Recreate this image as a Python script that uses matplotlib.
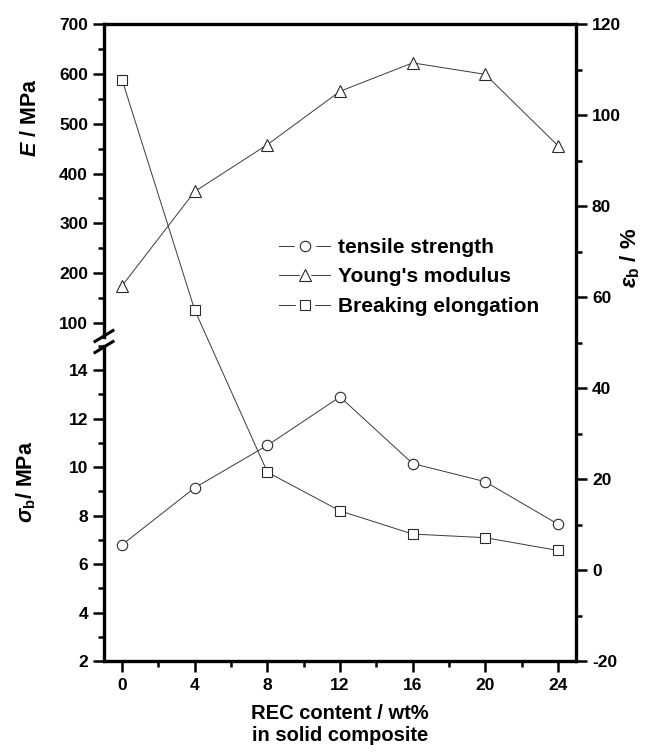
import numpy as np
import matplotlib.pyplot as plt
from matplotlib.ticker import MultipleLocator
from matplotlib.lines import Line2D
from matplotlib.legend_handler import HandlerTuple

plt.rcParams['font.family'] = ['Liberation Sans', 'DejaVu Sans']
plt.rcParams['font.weight'] = 'bold'
plt.rcParams['axes.unicode_minus'] = False
plt.rcParams['mathtext.fontset'] = 'custom'
plt.rcParams['mathtext.rm'] = 'Liberation Sans:bold'
plt.rcParams['mathtext.bf'] = 'Liberation Sans:bold'
plt.rcParams['mathtext.it'] = 'Liberation Sans:italic:bold'

# REC content (wt%)
rec = [0, 4, 8, 12, 16, 20, 24]
# tensile strength sigma_b (MPa)
tensile = [6.8, 9.15, 10.9, 12.9, 10.15, 9.4, 7.65]
# Young's modulus E (MPa)
modulus = [175, 364, 458, 565, 622, 599, 456]
# breaking elongation eps_b (%)
elongation = [107.7, 57.1, 21.5, 13.0, 7.9, 7.1, 4.3]

W, H = 645, 753
L, R, T, B = 104, 576, 24, 661
top_bottom = 337
bot_top = 346

def frac(x0, y0, x1, y1):
    return [x0 / W, (H - y1) / H, (x1 - x0) / W, (y1 - y0) / H]

fig = plt.figure(figsize=(W / 100, H / 100), dpi=100)
ax_r = fig.add_axes(frac(L, T, R, B))
ax_top = fig.add_axes(frac(L, T, R, top_bottom))
ax_bot = fig.add_axes(frac(L, bot_top, R, B))

lw_spine = 2.4
tick_fs = 12.5
line_col = '#3a3a3a'
edge_col = '#2a2a2a'
common = dict(color=line_col, lw=0.7, mfc='white', mec=edge_col, mew=0.8)

for ax in (ax_r, ax_top, ax_bot):
    ax.set_xlim(-1, 25)
    ax.patch.set_alpha(0)
    for s in ax.spines.values():
        s.set_linewidth(lw_spine)

# right axis carries the outer frame and x ticks
ax_r.spines['left'].set_visible(False)
ax_r.yaxis.tick_right()
ax_r.yaxis.set_label_position('right')
ax_r.set_ylim(-20, 120)
ax_r.yaxis.set_major_locator(MultipleLocator(20))
ax_r.yaxis.set_minor_locator(MultipleLocator(10))
ax_r.xaxis.set_major_locator(MultipleLocator(4))
ax_r.xaxis.set_minor_locator(MultipleLocator(2))
ax_r.tick_params(axis='x', which='both', top=False, direction='out', width=1.8)
ax_r.tick_params(axis='x', which='major', length=8, pad=4, labelsize=tick_fs)
ax_r.tick_params(axis='x', which='minor', length=4)
ax_r.tick_params(axis='y', which='both', left=False, right=True, direction='out', width=1.8)
ax_r.tick_params(axis='y', which='major', length=8, labelsize=tick_fs)
ax_r.tick_params(axis='y', which='minor', length=4)

for ax in (ax_top, ax_bot):
    for side in ('top', 'right', 'bottom'):
        ax.spines[side].set_visible(False)
    ax.set_xticks([])
    ax.tick_params(axis='y', which='both', direction='out', width=1.8)
    ax.tick_params(axis='y', which='major', length=8, labelsize=tick_fs)
    ax.tick_params(axis='y', which='minor', length=4)

ax_top.set_ylim(72, 700)
ax_top.set_yticks([100, 200, 300, 400, 500, 600, 700])
ax_top.yaxis.set_minor_locator(MultipleLocator(50))

ax_bot.set_ylim(2, 15)
ax_bot.yaxis.set_major_locator(MultipleLocator(2))
ax_bot.yaxis.set_minor_locator(MultipleLocator(1))

# data
ax_bot.plot(rec, tensile, marker='o', ms=7.5, **common)
ax_top.plot(rec, modulus, marker='^', ms=9, **common)
ax_r.plot(rec, elongation, marker='s', ms=6.5, **common)

# legend handles: line with a gap around the marker
def make_handle(marker, ms):
    base = Line2D([], [], color=line_col, lw=0.7)
    halo = Line2D([], [], ls='none', marker=marker, ms=ms + 7, mfc='white', mec='white')
    mk = Line2D([], [], ls='none', marker=marker, ms=ms, mfc='white', mec=edge_col, mew=0.8)
    return (base, halo, mk)

handles = [make_handle('o', 7.5), make_handle('^', 8), make_handle('s', 6.5)]
labels = ['tensile strength', "Young's modulus", 'Breaking elongation']
ax_r.legend(handles, labels, loc='upper left',
            bbox_to_anchor=(0.371, 0.664), frameon=False,
            prop={'weight': 'bold', 'size': 15},
            handler_map={tuple: HandlerTuple(ndivide=1)},
            borderpad=0, borderaxespad=0,
            handlelength=2.45, handletextpad=0.4, labelspacing=0.5)

# axis break marks on left spine
for yb in (top_bottom - 1, bot_top + 1):
    yf = (H - yb) / H
    dx, dy = 9 / W, 5.5 / H
    fig.add_artist(Line2D([L / W - dx, L / W + dx], [yf - dy, yf + dy],
                          color='black', lw=2.2, transform=fig.transFigure))

ax_top.set_ylabel('$E$ / MPa', fontsize=15.5, fontweight='bold')
ax_top.yaxis.set_label_coords(-0.133, 0.70)
ax_bot.set_ylabel(r'$\sigma_{\mathrm{b}}$/ MPa', fontsize=15.5, fontweight='bold')
ax_bot.yaxis.set_label_coords(-0.14, 0.57)
ax_r.set_ylabel(r'$\epsilon_{\mathrm{b}}$ / %', fontsize=16, fontweight='bold', rotation=90)
ax_r.yaxis.set_label_coords(1.089, 0.633)

ax_r.set_xlabel('REC content / wt%\nin solid composite', fontsize=14.5,
                fontweight='bold', labelpad=8, linespacing=1.2)

plt.savefig('out.png', dpi=100)
